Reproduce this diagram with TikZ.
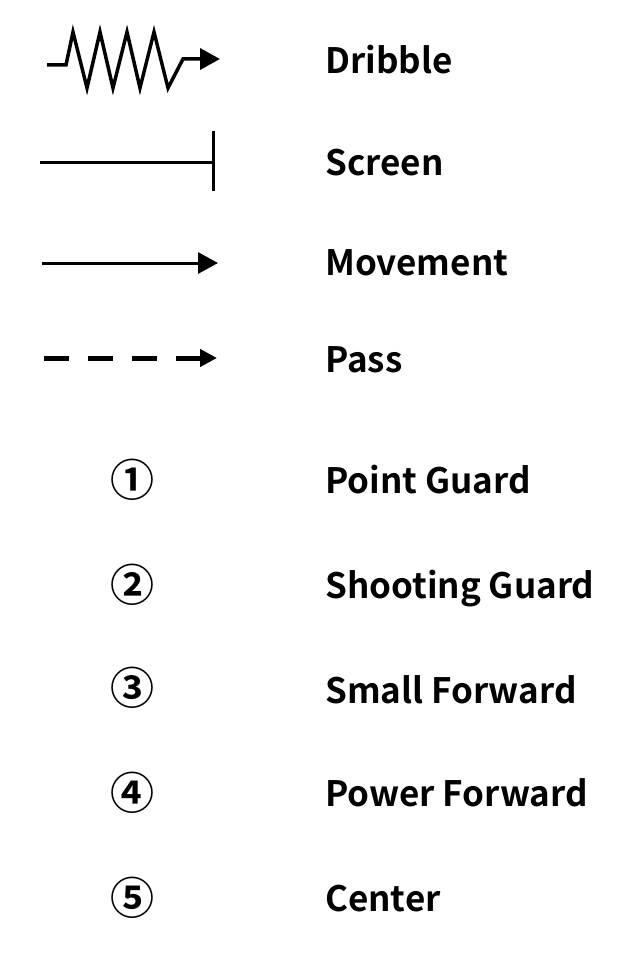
\documentclass[tikz,border=0pt]{standalone}
\usepackage{fontspec}
\setmainfont{Noto Sans CJK SC}[BoldFont={* Bold}]
\usetikzlibrary{arrows.meta}
\begin{document}
\begin{tikzpicture}[x=1pt,y=-1pt,
  lbl/.style={anchor=base west,inner sep=0pt,font=\fontsize{35}{40}\selectfont\bfseries},
  num/.style={anchor=center,inner sep=0pt,font=\fontsize{44}{48}\selectfont\bfseries},
  sym/.style={line width=3pt,line join=miter},
  tip/.style={-{Triangle[length=20pt,width=21pt]}}]
\useasboundingbox (0,0) rectangle (628,958);
% dribble
\coordinate (d0) at (47,65);
\coordinate (d1) at (220,59);
\draw[sym,line width=3.5pt,tip] (d0) -- (66,65) -- (73,32) -- (87,88) -- (100,32) -- (113,88) -- (127,32) -- (140,88) -- (154,32) -- (168,88) -- (183,59) -- (d1);
\node[lbl] (tdribble) at (325,74) {Dribble};
% screen
\coordinate (s0) at (40,162);
\coordinate (s1) at (213,162);
\coordinate (s1a) at (213,131);
\coordinate (s1b) at (213,191);
\draw[sym] (s0) -- (s1);
\draw[sym] (s1a) -- (s1b);
\node[lbl] (tscreen) at (325,175) {Screen};
% movement
\coordinate (m0) at (42,263);
\coordinate (m1) at (218,263);
\draw[sym,tip] (m0) -- (m1);
\node[lbl] (tmove) at (325,275) {Movement};
% pass
\coordinate (p0) at (44,358);
\coordinate (p1) at (217,358);
\draw[line width=5pt,dash pattern=on 25pt off 19pt,-{Triangle[length=17pt,width=17pt]}] (p0) -- (p1);
\node[lbl] (tpass) at (325,372) {Pass};
% players
\node[num] (n1) at (132,480) {①};
\node[lbl] (t1) at (325,493) {Point Guard};
\node[num] (n2) at (132,585) {②};
\node[lbl] (t2) at (325,598) {Shooting Guard};
\node[num] (n3) at (132,688) {③};
\node[lbl] (t3) at (325,703) {Small Forward};
\node[num] (n4) at (132,793) {④};
\node[lbl] (t4) at (325,806) {Power Forward};
\node[num] (n5) at (132,898) {⑤};
\node[lbl] (t5) at (325,911) {Center};
\end{tikzpicture}
\end{document}
